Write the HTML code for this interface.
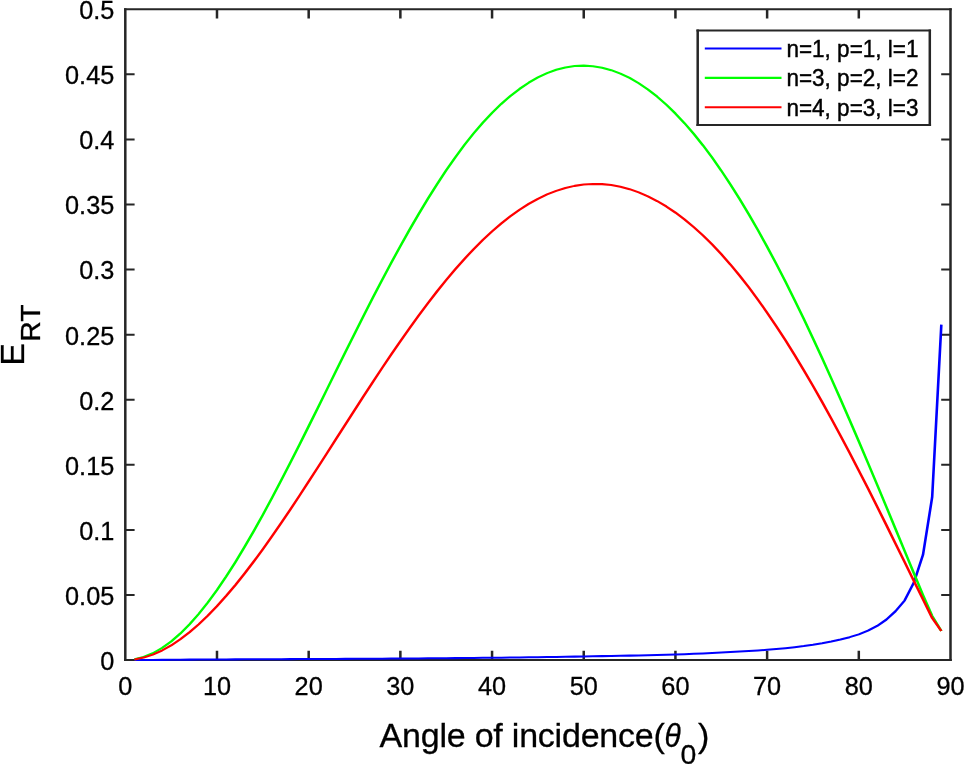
<!DOCTYPE html>
<html><head><meta charset="utf-8"><title>E_RT vs angle of incidence</title>
<style>html,body{margin:0;padding:0;background:#fff;}svg{display:block;will-change:transform;}text{font-family:"Liberation Sans",sans-serif;fill:#000;stroke:#000;stroke-width:0.3px;}</style></head><body>
<svg width="964" height="764" viewBox="0 0 964 764">
<rect x="0" y="0" width="964" height="764" fill="#ffffff"/>
<path d="M216.99,660.1 V650.80 M216.99,9.2 V18.50 M308.68,660.1 V650.80 M308.68,9.2 V18.50 M400.37,660.1 V650.80 M400.37,9.2 V18.50 M492.06,660.1 V650.80 M492.06,9.2 V18.50 M583.74,660.1 V650.80 M583.74,9.2 V18.50 M675.43,660.1 V650.80 M675.43,9.2 V18.50 M767.12,660.1 V650.80 M767.12,9.2 V18.50 M858.81,660.1 V650.80 M858.81,9.2 V18.50" stroke="#262626" stroke-width="2.5" fill="none"/>
<path d="M125.3,595.01 H134.60 M950.5,595.01 H941.20 M125.3,529.92 H134.60 M950.5,529.92 H941.20 M125.3,464.83 H134.60 M950.5,464.83 H941.20 M125.3,399.74 H134.60 M950.5,399.74 H941.20 M125.3,334.65 H134.60 M950.5,334.65 H941.20 M125.3,269.56 H134.60 M950.5,269.56 H941.20 M125.3,204.47 H134.60 M950.5,204.47 H941.20 M125.3,139.38 H134.60 M950.5,139.38 H941.20 M125.3,74.29 H134.60 M950.5,74.29 H941.20" stroke="#262626" stroke-width="2.0" fill="none"/>
<path d="M125.3,8.20 V661.10 M950.5,8.20 V661.10" stroke="#262626" stroke-width="2.5" fill="none"/>
<path d="M124.05,9.2 H951.75 M124.05,660.1 H951.75" stroke="#262626" stroke-width="2.0" fill="none"/>
<g transform="scale(1.27,1)" fill="none" stroke-width="2.05" stroke-linejoin="round" stroke-linecap="butt">
<path d="M105.88,660.06 L113.10,660.01 L120.32,659.94 L127.54,659.87 L134.76,659.80 L141.98,659.72 L149.20,659.64 L156.42,659.57 L163.64,659.50 L170.86,659.45 L178.08,659.40 L185.30,659.36 L192.52,659.32 L199.74,659.28 L206.96,659.25 L214.17,659.21 L221.39,659.18 L228.61,659.14 L235.83,659.10 L243.05,659.06 L250.27,659.01 L257.49,658.97 L264.71,658.92 L271.93,658.87 L279.15,658.82 L286.37,658.77 L293.59,658.71 L300.81,658.66 L308.03,658.60 L315.25,658.54 L322.47,658.47 L329.69,658.41 L336.91,658.34 L344.13,658.27 L351.35,658.19 L358.57,658.11 L365.79,658.03 L373.01,657.94 L380.23,657.85 L387.45,657.76 L394.66,657.66 L401.88,657.55 L409.10,657.43 L416.32,657.31 L423.54,657.18 L430.76,657.04 L437.98,656.90 L445.20,656.76 L452.42,656.61 L459.64,656.45 L466.86,656.30 L474.08,656.14 L481.30,655.97 L488.52,655.80 L495.74,655.62 L502.96,655.43 L510.18,655.22 L517.40,655.00 L524.62,654.76 L531.84,654.50 L539.06,654.20 L546.28,653.84 L553.50,653.44 L560.72,653.00 L567.94,652.55 L575.15,652.08 L582.37,651.59 L589.59,651.05 L596.81,650.46 L604.03,649.82 L611.25,649.05 L618.47,648.15 L625.69,647.16 L632.91,646.03 L640.13,644.73 L647.35,643.24 L654.57,641.52 L661.79,639.51 L669.01,637.16 L676.23,634.35 L683.45,630.68 L690.67,625.93 L697.89,619.61 L705.11,611.28 L712.33,600.48 L719.55,582.64 L726.77,554.78 L733.99,497.24 L741.21,324.63" stroke="#0000ff"/>
<path d="M105.88,659.32 L113.10,657.01 L120.32,653.24 L127.54,648.03 L134.76,641.44 L141.98,633.53 L149.20,624.36 L156.42,614.00 L163.64,602.51 L170.86,589.99 L178.08,576.51 L185.30,562.17 L192.52,547.05 L199.74,531.23 L206.96,514.80 L214.17,497.84 L221.39,480.43 L228.61,462.64 L235.83,444.55 L243.05,426.25 L250.27,407.79 L257.49,389.25 L264.71,370.70 L271.93,352.21 L279.15,333.85 L286.37,315.67 L293.59,297.74 L300.81,280.13 L308.03,262.89 L315.25,246.07 L322.47,229.74 L329.69,213.95 L336.91,198.75 L344.13,184.18 L351.35,170.31 L358.57,157.17 L365.79,144.81 L373.01,133.27 L380.23,122.59 L387.45,112.82 L394.66,103.96 L401.88,95.99 L409.10,88.90 L416.32,82.69 L423.54,77.42 L430.76,73.12 L437.98,69.79 L445.20,67.43 L452.42,66.04 L459.64,65.62 L466.86,66.17 L474.08,67.69 L481.30,70.16 L488.52,73.58 L495.74,77.94 L502.96,83.24 L510.18,89.46 L517.40,96.59 L524.62,104.61 L531.84,113.52 L539.06,123.29 L546.28,133.91 L553.50,145.35 L560.72,157.60 L567.94,170.63 L575.15,184.43 L582.37,198.97 L589.59,214.21 L596.81,230.14 L604.03,246.72 L611.25,263.93 L618.47,281.73 L625.69,300.10 L632.91,318.99 L640.13,338.37 L647.35,358.21 L654.57,378.48 L661.79,399.12 L669.01,420.12 L676.23,441.41 L683.45,462.98 L690.67,484.76 L697.89,506.73 L705.11,528.84 L712.33,551.03 L719.55,573.19 L726.77,594.98 L733.99,615.85 L741.21,630.94" stroke="#00ff00"/>
<path d="M105.88,659.45 L113.10,657.60 L120.32,654.61 L127.54,650.53 L134.76,645.41 L141.98,639.31 L149.20,632.27 L156.42,624.37 L163.64,615.64 L170.86,606.14 L178.08,595.94 L185.30,585.08 L192.52,573.63 L199.74,561.64 L206.96,549.17 L214.17,536.27 L221.39,523.01 L228.61,509.44 L235.83,495.61 L243.05,481.58 L250.27,467.40 L257.49,453.13 L264.71,438.80 L271.93,424.48 L279.15,410.21 L286.37,396.03 L293.59,381.99 L300.81,368.15 L308.03,354.53 L315.25,341.19 L322.47,328.16 L329.69,315.49 L336.91,303.21 L344.13,291.36 L351.35,279.99 L358.57,269.12 L365.79,258.79 L373.01,249.03 L380.23,239.87 L387.45,231.34 L394.66,223.46 L401.88,216.24 L409.10,209.72 L416.32,203.91 L423.54,198.81 L430.76,194.45 L437.98,190.84 L445.20,187.98 L452.42,185.87 L459.64,184.53 L466.86,183.94 L474.08,184.11 L481.30,185.05 L488.52,186.74 L495.74,189.18 L502.96,192.38 L510.18,196.33 L517.40,201.02 L524.62,206.44 L531.84,212.60 L539.06,219.49 L546.28,227.10 L553.50,235.42 L560.72,244.44 L567.94,254.15 L575.15,264.55 L582.37,275.61 L589.59,287.33 L596.81,299.68 L604.03,312.65 L611.25,326.21 L618.47,340.34 L625.69,355.01 L632.91,370.21 L640.13,385.89 L647.35,402.04 L654.57,418.61 L661.79,435.58 L669.01,452.91 L676.23,470.55 L683.45,488.48 L690.67,506.64 L697.89,525.00 L705.11,543.51 L712.33,562.12 L719.55,580.78 L726.77,599.45 L733.99,618.07 L741.21,630.94" stroke="#ff0000"/>
</g>
<g font-size="25.3" text-anchor="middle">
<text x="125.30" y="694.8">0</text>
<text x="216.99" y="694.8">10</text>
<text x="308.68" y="694.8">20</text>
<text x="400.37" y="694.8">30</text>
<text x="492.06" y="694.8">40</text>
<text x="583.74" y="694.8">50</text>
<text x="675.43" y="694.8">60</text>
<text x="767.12" y="694.8">70</text>
<text x="858.81" y="694.8">80</text>
<text x="950.50" y="694.8">90</text>
</g>
<g font-size="25.3" text-anchor="end">
<text x="114.3" y="670.00">0</text>
<text x="114.3" y="604.91">0.05</text>
<text x="114.3" y="539.82">0.1</text>
<text x="114.3" y="474.73">0.15</text>
<text x="114.3" y="409.64">0.2</text>
<text x="114.3" y="344.55">0.25</text>
<text x="114.3" y="279.46">0.3</text>
<text x="114.3" y="214.37">0.35</text>
<text x="114.3" y="149.28">0.4</text>
<text x="114.3" y="84.19">0.45</text>
<text x="114.3" y="19.10">0.5</text>
</g>
<rect x="697.7" y="30.5" width="231.7" height="94.6" fill="#ffffff"/>
<path d="M697.7,29.50 V126.10 M929.8,29.50 V126.10" stroke="#262626" stroke-width="2.5" fill="none"/>
<path d="M696.45,30.5 H931.05 M696.45,125.1 H931.05" stroke="#262626" stroke-width="2.0" fill="none"/>
<path d="M704.8,48.40 H781.5" stroke="#0000ff" stroke-width="2.05" fill="none"/>
<text transform="translate(786.4,56.70) scale(0.993,1.08)" font-size="22.7" style="stroke-width:0.42px">n=1, p=1, l=1</text>
<path d="M704.8,77.85 H781.5" stroke="#00ff00" stroke-width="2.05" fill="none"/>
<text transform="translate(786.4,86.15) scale(0.993,1.08)" font-size="22.7" style="stroke-width:0.42px">n=3, p=2, l=2</text>
<path d="M704.8,107.30 H781.5" stroke="#ff0000" stroke-width="2.05" fill="none"/>
<text transform="translate(786.4,115.60) scale(0.993,1.08)" font-size="22.7" style="stroke-width:0.42px">n=4, p=3, l=3</text>
<text x="379.6" y="747.3" font-size="34" letter-spacing="-0.22">Angle of incidence(</text>
<text transform="translate(664.4,747.3) scale(0.88,1)" font-size="34" font-style="italic">&#952;</text>
<text x="680.6" y="764.2" font-size="28.4">0</text>
<text x="697.9" y="747.3" font-size="34">)</text>
<text transform="translate(24.2,365.7) rotate(-90)" font-size="34">E<tspan font-size="28.4" dx="1.3" dy="16.2">RT</tspan></text>
</svg></body></html>
